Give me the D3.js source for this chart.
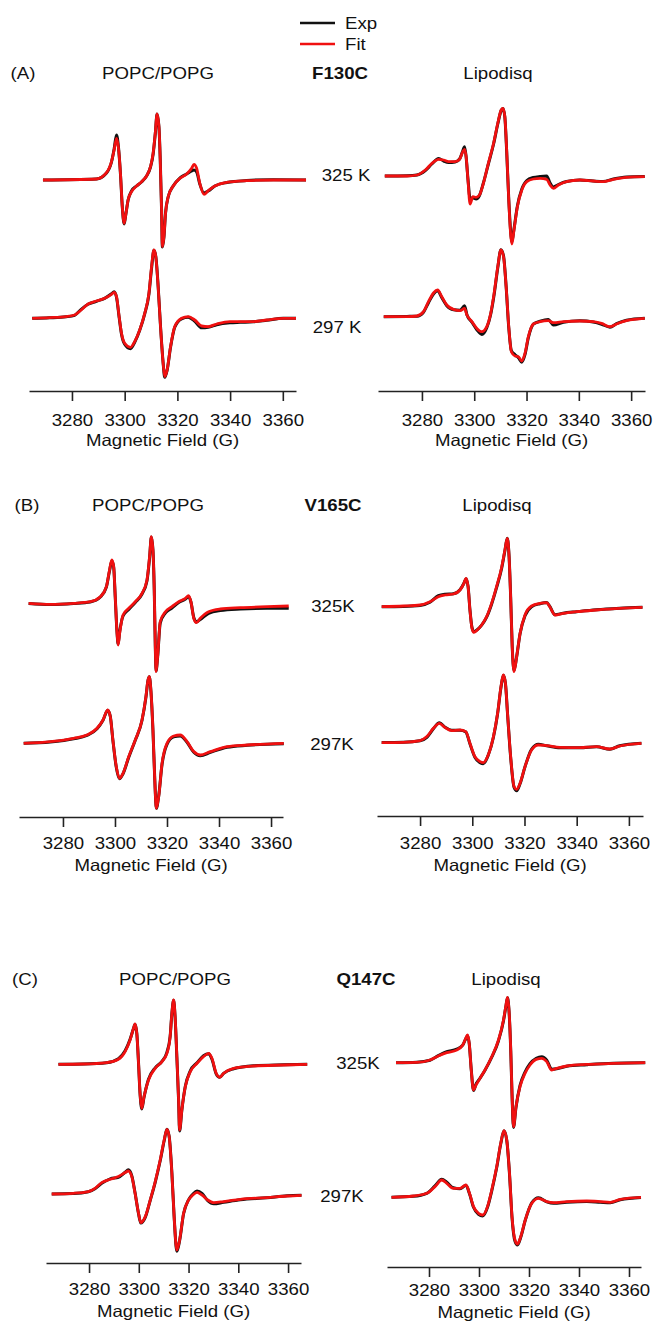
<!DOCTYPE html>
<html>
<head>
<meta charset="utf-8">
<script src="https://cdn.jsdelivr.net/npm/d3@7"></script>
<style>
  body { margin: 0; background: #fff; }
  text { font-family: "Liberation Sans", Arial, sans-serif; fill: #111; }
</style>
</head>
<body>
<div id="chart"></div>
<script>
// ---- labels ----
const fieldTicks = [3280, 3300, 3320, 3340, 3360];
const panelLabels = ["(A)", "(B)", "(C)"];
const mutants = ["F130C", "V165C", "Q147C"];
const systems = ["POPC/POPG", "Lipodisq"];
const tempLabels = [["325 K", "297 K"], ["325K", "297K"], ["325K", "297K"]];
const legendNames = ["Exp", "Fit"];

// ---- spectra: field (G), fit and experimental derivative intensity (a.u.) ----
// (A) F130C, POPC/POPG
const aPopc325Field = [3269.0,3289.3,3293.1,3295.0,3296.0,3296.9,3297.6,3298.4,3299.1,3299.8,3300.4,3301.3,3302.6,3304.5,3306.4,3308.3,3309.8,3310.8,3311.6,3312.3,3313.0,3313.5,3314.0,3314.3,3314.9,3315.5,3316.5,3318.4,3321.0,3323.5,3325.4,3326.3,3327.3,3328.5,3330.1,3331.7,3334.2,3338.7,3346.3,3356.4,3368.8];
const aPopc325Fit = [0,1,7.3,18.3,30,41.7,33,6.7,-26.7,-43.3,-35,-20,-11.7,-6,-1.7,4,13.3,26.7,46.7,66,53.3,20,-30,-66.7,-56.7,-33.3,-16.7,-6,1.7,6,11.7,15.7,11.7,-3.3,-14.3,-10.7,-6,-2.3,-0.7,0,0];
const aPopc325Exp = [0,1,7,18,31,45,34,6,-27,-44,-35,-20,-11,-6,-2,4,13,26,46,66,53,20,-30,-67,-57,-33,-17,-6,2,6,9,10,8,-4,-13,-11,-6,-2.5,-0.5,0.3,0];
const aPopc297Field = [3264.9,3271.5,3277.8,3281.0,3283.5,3286.1,3289.3,3292.4,3295.0,3296.0,3296.9,3297.9,3298.8,3300.0,3302.2,3303.8,3305.7,3307.6,3309.2,3310.2,3311.1,3311.8,3312.7,3313.6,3314.6,3315.2,3316.1,3317.4,3319.0,3321.6,3324.1,3326.6,3329.2,3331.7,3334.9,3339.9,3343.8,3348.8,3353.9,3360.2,3365.0];
const aPopc297Fit = [0,0.7,1.7,3.3,8.3,14.3,17.3,20,24,26,21.7,1.7,-15,-25,-29,-23.3,-11.7,5,25,51.7,68.3,61.7,31.7,-8.3,-45,-58.3,-51.7,-28.3,-8.3,0,1.7,-1.7,-7.7,-8.3,-5.7,-3.3,-3.3,-3.3,-1.7,0,0];
const aPopc297Exp = [0,0.5,1.5,3,9,14,17,20,24.5,26.5,21,1,-16,-26,-30.5,-24,-12,4.5,24,50,68,62,32,-8,-45,-59,-52,-29,-9,-0.5,1,-3,-9.5,-9,-6.5,-4.5,-4,-3.5,-2,0,0];
// (A) F130C, Lipodisq
const aLipo325Field = [3265.8,3274.3,3278.1,3281.3,3283.8,3286.4,3288.3,3290.2,3292.7,3294.4,3295.6,3296.3,3296.9,3297.6,3298.4,3299.5,3300.7,3302.0,3303.5,3305.4,3307.4,3309.0,3310.3,3311.0,3311.7,3312.4,3313.2,3314.0,3314.4,3315.2,3316.5,3318.2,3320.1,3322.6,3325.2,3327.7,3329.0,3330.3,3332.2,3335.3,3340.4,3345.5,3349.3,3353.2,3358.2,3365.2];
const aLipo325Fit = [0,0,1,6,12.7,16.7,16,14.3,14.3,16.7,24.3,26.7,19.3,-4,-28,-20.7,-21.3,-19,-7.3,12.7,32.7,52.7,66,67.7,59.3,26,-24,-60.7,-68,-54,-30.7,-14,-5.7,-3,-2.3,-3.3,-9,-12.3,-9,-5.7,-4,-5,-5.7,-3.3,-1.3,-0.7];
const aLipo325Exp = [0,0.3,1,5.5,12,17.5,15,13.5,14,17,25,29.3,19,-3,-22,-22,-23,-19.5,-7,12,32,52,65.5,67.5,59,25,-23,-58,-66,-53,-30,-13,-4.5,-1.5,-0.5,0,-7,-11,-8.5,-5.5,-4,-5,-5.5,-3,-1,-0.5];
const aLipo297Field = [3265.4,3274.3,3278.1,3280.6,3282.5,3284.5,3286.0,3287.6,3289.5,3292.1,3294.6,3296.3,3297.2,3299.1,3301.0,3302.9,3304.8,3306.3,3307.6,3309.0,3310.2,3311.2,3312.2,3313.2,3314.2,3315.6,3316.9,3318.2,3319.4,3320.7,3322.6,3325.2,3328.3,3330.3,3334.1,3340.4,3345.5,3348.7,3351.9,3354.4,3358.2,3365.2];
const aLipo297Fit = [0,0,0.7,5,15,24,26.7,20,11.7,7.3,6,8.3,1.7,-5,-11.7,-15,-10,3.3,23.3,50,66.7,60,30,-10,-35,-39.3,-40,-44.3,-36.7,-20,-7.3,-5,-4,-6,-5,-4.3,-5,-6.7,-10,-7.3,-4,-1.7];
const aLipo297Exp = [0,0.3,0.5,4.5,14,23,26,19,11,7,6.5,11,2,-5.5,-13,-17.7,-11,2.5,22,49,67,61,30,-11,-34,-38,-41,-45.5,-38,-21,-7.5,-4.5,-2.7,-8.3,-5.5,-4,-5.3,-7.5,-10.5,-7,-3.5,-1.5];

// (B) V165C, POPC/POPG
const bPopc325Field = [3266.8,3275.1,3284.1,3290.5,3294.4,3296.7,3297.9,3298.8,3299.5,3300.1,3300.8,3301.2,3301.8,3303.1,3305.3,3307.8,3310.4,3312.3,3313.3,3314.0,3314.6,3315.1,3315.5,3315.8,3316.4,3317.4,3319.4,3321.9,3324.5,3327.1,3328.3,3329.2,3330.3,3331.3,3332.8,3336.0,3340.5,3348.2,3358.5,3366.8];
const bPopc325Fit = [0.7,-0.3,0.7,2.3,7.3,17.3,34,44,37.3,7.3,-29.3,-41,-29.3,-11,-4.3,2.3,10.7,24,47.3,67.3,54,14,-42.7,-67.7,-52.7,-17.7,-7.7,-2.7,2.3,5.7,8.3,2.3,-14.3,-18.7,-14.3,-7.7,-5,-3.7,-2.7,-2];
const bPopc325Exp = [0.5,-0.5,0.5,2,7,17,33,43,37,7,-29,-40,-28,-12,-5.5,1.5,10,23,46,67,54,14,-42,-67,-53,-19,-9,-4,1.5,5,7.5,2,-13.5,-18,-15.5,-9.3,-6.5,-5,-4.3,-4.3];
const bPopc297Field = [3264.9,3275.1,3284.1,3289.2,3293.1,3295.4,3297.2,3298.2,3299.2,3300.5,3301.7,3303.1,3305.3,3307.8,3310.4,3311.9,3312.7,3313.2,3313.8,3314.6,3315.3,3315.9,3316.8,3318.1,3320.0,3322.6,3325.1,3327.7,3330.3,3332.8,3336.7,3343.1,3350.8,3364.9];
const bPopc297Fit = [0,1.7,5,8.3,15,23.3,33.3,26.7,3.3,-23.3,-35,-30,-13.3,3.3,23.3,46.7,63.3,66.7,53.3,13.3,-36.7,-65,-53.3,-20,0,7.3,8.3,1.7,-8.3,-11.7,-8.3,-3.3,-1.7,0];
const bPopc297Exp = [0,1.3,4.5,8,14.5,23,33,27,3,-24,-35.5,-30.5,-14,3,23,46,63,66.5,53,13,-36,-65,-53,-21,-1,6.5,7.3,1,-9,-12.5,-9,-4,-2,-0.5];
// (B) V165C, Lipodisq
const bLipo325Field = [3265.3,3273.6,3280.0,3283.8,3287.0,3289.6,3292.8,3295.3,3296.8,3297.6,3298.4,3299.1,3299.9,3300.6,3301.9,3303.6,3305.5,3307.4,3309.3,3311.3,3312.5,3313.4,3314.1,3314.7,3315.3,3316.0,3317.0,3318.3,3320.2,3322.7,3325.9,3328.5,3329.7,3331.7,3334.8,3340.0,3347.6,3356.5,3365.2];
const bLipo325Fit = [0,0.7,1.7,5,10,11.7,12.7,16.7,23.3,28.3,20,-3.3,-21.7,-25.7,-23.3,-18.3,-10,3.3,20,40,56.7,68.3,50,10,-40,-65,-50,-26.7,-8.3,0.7,3.3,4,0,-8.3,-6.7,-5,-3.3,-1.7,-0.7];
const bLipo325Exp = [0,0.3,1.3,4.5,11,12.5,13,17,23.5,28,20,-3,-21,-25,-23,-18.5,-10.5,2.5,19,39,56,68.5,50,10,-40,-64,-50,-27,-9,0,3,4.3,0.3,-8,-6.5,-5,-3,-1.5,-0.5];
const bLipo297Field = [3265.3,3273.6,3280.0,3282.6,3285.1,3287.4,3289.6,3292.1,3295.3,3297.5,3299.1,3301.0,3303.0,3304.2,3306.1,3308.1,3309.7,3311.0,3311.9,3312.7,3313.5,3314.7,3316.0,3317.0,3318.3,3320.2,3322.7,3325.3,3328.5,3333.6,3341.2,3347.6,3352.7,3356.5,3364.8];
const bLipo297Fit = [-0.3,0,1.7,5.7,14,19,14.7,11.7,12.3,10.7,-1,-14.3,-19.3,-20.3,-12.7,5.7,29,55.7,67.3,59,29,-14.3,-44.3,-47,-41,-24.3,-7.7,-2.7,-3.3,-5,-5.3,-4.3,-6.7,-3.7,-1];
const bLipo297Exp = [-0.3,0,1.5,5,13.5,19.5,15,12,12,10.5,-1.5,-15,-20.5,-21.5,-13,5,28.5,55,67,59,29,-15,-45,-48.5,-41.5,-24.5,-7,-2,-3.5,-5.5,-5.5,-4.5,-7,-3.5,-1];

// (C) Q147C, POPC/POPG
const cPopc325Field = [3267.7,3277.7,3287.1,3291.8,3294.5,3296.5,3297.9,3298.5,3299.2,3299.9,3300.5,3301.2,3302.1,3303.9,3306.6,3309.3,3311.3,3312.6,3313.3,3314.0,3314.6,3315.3,3316.0,3316.4,3317.3,3318.7,3320.7,3323.4,3326.0,3328.1,3329.4,3331.1,3332.5,3334.1,3338.1,3346.2,3358.3,3367.7];
const cPopc325Fit = [0,0.3,1.7,5,12.7,24.3,36,40.3,31,1,-29,-44,-32.3,-15.7,-4,2.7,11,27.7,51,64.3,47.7,7.7,-35.7,-65.7,-45.7,-22.3,-7.3,1,7.7,11,6,-9,-13,-9,-4,-1.7,-0.7,0];
const cPopc325Exp = [0,0.3,1.5,5.5,13.5,25,36,40,31,1,-29,-44.7,-33,-15,-3.5,3,12,28,51,64,47,7,-36,-66.7,-46,-22,-6.5,1.5,8.5,10.5,5,-9.5,-13,-9,-4.5,-1.5,-0.5,0];
const cPopc297Field = [3265.0,3273.7,3279.7,3282.4,3285.1,3288.5,3291.8,3294.5,3295.8,3297.2,3298.5,3299.9,3300.8,3302.6,3304.6,3306.6,3308.6,3310.2,3311.3,3312.2,3313.3,3314.2,3315.3,3316.4,3318.0,3320.0,3321.7,3323.4,3325.4,3327.7,3330.1,3334.1,3340.8,3351.5,3359.6,3365.4];
const cPopc297Fit = [0.3,1,2.7,6,11.7,15,17.7,21.7,23.3,17.7,1,-19,-28.3,-22.3,-5.7,12.7,34.3,54.3,65,57.7,21,-22.3,-55.7,-45.7,-19,-5.7,-0.7,2,-0.7,-5.7,-8.3,-7.3,-5,-3.3,-1.7,-1];
const cPopc297Exp = [0.3,0.7,2.5,5.5,11,15.5,17,22,24.5,18.5,1.5,-19.5,-28.7,-23,-6,12,33.5,53.5,65,58,21.5,-22,-57,-46.5,-19.5,-5.5,0,3.3,1,-6.3,-9.5,-8,-5.5,-3.5,-1.5,-1];
// (C) Q147C, Lipodisq
const cLipo325Field = [3266.8,3275.1,3280.4,3283.7,3287.1,3291.1,3293.5,3294.7,3295.4,3296.1,3296.9,3297.8,3298.8,3300.4,3302.4,3305.1,3307.8,3309.8,3310.8,3311.4,3312.0,3312.7,3313.2,3313.8,3314.8,3316.4,3318.4,3320.4,3322.9,3325.1,3327.1,3329.1,3331.1,3335.1,3343.1,3353.8,3366.5];
const cLipo325Fit = [0,0.3,2.7,6.7,10,12.7,17.7,24.3,27.7,19.3,-7.3,-27.3,-22.3,-15.7,-7.3,6,22.7,42.7,57.7,65.3,52.7,12.7,-30.7,-64,-44,-24,-10.7,-2.3,3.3,4.3,1,-7.3,-5.7,-3.3,-1.7,-0.7,0];
const cLipo325Exp = [0,0.5,2.5,7,11,13.5,17.5,24,27,19,-7,-27.7,-21.5,-15.5,-7.5,5.5,22,42,57,65,52,12,-31,-64.7,-44.5,-23,-9.5,-1,4.5,6,2.5,-6.5,-6,-3.5,-2,-0.5,0];
const cLipo297Field = [3265.0,3273.7,3279.1,3282.4,3285.1,3287.1,3289.7,3292.4,3294.8,3296.2,3297.8,3299.8,3301.5,3303.4,3305.1,3307.1,3308.7,3310.0,3311.1,3312.2,3313.2,3314.4,3315.4,3316.7,3318.5,3321.1,3323.8,3327.1,3329.8,3335.1,3343.1,3348.5,3352.5,3356.5,3364.8];
const cLipo297Fit = [0,1.3,4,10.7,17.3,14,9,9,12.3,4,-9.3,-16,-17.7,-9.3,7.3,30.7,54,66.7,57.3,24,-19.3,-42.7,-46.7,-39.3,-22.7,-6,-1,-4.3,-5.3,-4.3,-3.7,-4.3,-5,-2,0];
const cLipo297Exp = [0,1,4,11.5,18,15,9.5,8.5,12,3.5,-10,-17,-18.7,-10,6.5,30,53.5,66.5,57,23.5,-20,-44,-47.7,-40,-23,-5.5,-0.5,-4.5,-6,-5,-4.3,-5,-5.5,-2.5,-0.3];

// spectra[panel][system][temperature]
const spectra = [
  [[[aPopc325Field, aPopc325Fit, aPopc325Exp], [aPopc297Field, aPopc297Fit, aPopc297Exp]],
   [[aLipo325Field, aLipo325Fit, aLipo325Exp], [aLipo297Field, aLipo297Fit, aLipo297Exp]]],
  [[[bPopc325Field, bPopc325Fit, bPopc325Exp], [bPopc297Field, bPopc297Fit, bPopc297Exp]],
   [[bLipo325Field, bLipo325Fit, bLipo325Exp], [bLipo297Field, bLipo297Fit, bLipo297Exp]]],
  [[[cPopc325Field, cPopc325Fit, cPopc325Exp], [cPopc297Field, cPopc297Fit, cPopc297Exp]],
   [[cLipo325Field, cLipo325Fit, cLipo325Exp], [cLipo297Field, cLipo297Fit, cLipo297Exp]]]
];

// ---- layout (pixels) ----
const width = 654, height = 1322;
const FS = 16.5, SX = 1.13;   // font size, horizontal stretch of the original figure
const colors = { exp: "#111", fit: "#f01010" };

// per panel: header row y, label x positions, and the two subplots
const panels = [
  { headY: 73, headX: [23, 158, 340, 498],
    plots: [
      { range: [29, 296], domain: [3263.7, 3365.0], axisY: 391, base: [180, 318.3], tickPad: 13, titleY: 440 },
      { range: [378, 645], domain: [3263.2, 3365.3], axisY: 391, base: [176, 316.7], tickPad: 13, titleY: 440 }],
    tempPos: [[346, 175], [337, 327]] },
  { headY: 505, headX: [27, 148, 333, 497],
    plots: [
      { range: [19, 283], domain: [3263.1, 3364.6], axisY: 817, base: [604, 743.3], tickPad: 10, titleY: 865 },
      { range: [377, 643], domain: [3263.5, 3365.4], axisY: 816, base: [606.7, 742.3], tickPad: 11, titleY: 865 }],
    tempPos: [[333, 606], [332, 744]] },
  { headY: 979, headX: [25, 175, 366, 506],
    plots: [
      { range: [46, 301], domain: [3262.7, 3365.2], axisY: 1263, base: [1064.3, 1194.3], tickPad: 10, titleY: 1311 },
      { range: [387, 641], domain: [3263.2, 3364.8], axisY: 1267, base: [1062.7, 1197.3], tickPad: 7, titleY: 1312 }],
    tempPos: [[358, 1063], [342, 1196]] }
];

const svg = d3.select("#chart").append("svg")
  .attr("width", width).attr("height", height);

function label(x, y, str, bold, anchor) {
  return svg.append("text")
    .attr("transform", `translate(${x},${y}) scale(${SX},1)`)
    .attr("text-anchor", anchor || "middle")
    .attr("dominant-baseline", "central")
    .style("font-size", FS + "px")
    .style("font-weight", bold ? "bold" : "normal")
    .text(str);
}

// legend
const legendY = [23, 44];
legendNames.forEach((name, i) => {
  svg.append("line")
    .attr("x1", 300).attr("x2", 335)
    .attr("y1", legendY[i]).attr("y2", legendY[i])
    .attr("stroke", i === 0 ? colors.exp : colors.fit)
    .attr("stroke-width", 2.4);
  label(345, legendY[i], name, false, "start");
});

const line = d3.line().curve(d3.curveMonotoneX);

panels.forEach((panel, p) => {
  // header row
  label(panel.headX[0], panel.headY, panelLabels[p]);
  label(panel.headX[1], panel.headY, systems[0]);
  label(panel.headX[2], panel.headY, mutants[p], true);
  label(panel.headX[3], panel.headY, systems[1]);

  // temperature labels
  panel.tempPos.forEach((pos, t) => label(pos[0], pos[1], tempLabels[p][t]));

  panel.plots.forEach((plot, s) => {
    const x = d3.scaleLinear().domain(plot.domain).range(plot.range);

    // spectra, stacked by temperature
    spectra[p][s].forEach((spec, t) => {
      const [field, fit, exp] = spec;
      const y = d3.scaleLinear().domain([0, 100]).range([plot.base[t], plot.base[t] - 100]);
      line.x(d => x(d[0])).y(d => y(d[1]));

      svg.append("path")
        .datum(field.map((f, i) => [f, exp[i]]))
        .attr("d", line)
        .attr("fill", "none")
        .attr("stroke", colors.exp)
        .attr("stroke-width", 3)
        .attr("stroke-linejoin", "round");

      svg.append("path")
        .datum(field.map((f, i) => [f, fit[i]]))
        .attr("d", line)
        .attr("fill", "none")
        .attr("stroke", colors.fit)
        .attr("stroke-width", 2.8)
        .attr("stroke-linejoin", "round");
    });

    // field axis
    const ax = svg.append("g")
      .attr("transform", `translate(0,${plot.axisY})`)
      .call(d3.axisBottom(x).tickValues(fieldTicks).tickSize(10)
        .tickSizeOuter(0).tickPadding(plot.tickPad).tickFormat(d3.format("d")));
    ax.select(".domain").attr("stroke", "#222").attr("stroke-width", 1.6);
    ax.selectAll(".tick line").attr("stroke", "#222").attr("stroke-width", 1.6);
    ax.selectAll(".tick text")
      .attr("transform", `scale(${SX},1)`)
      .style("font-size", FS + "px")
      .style("font-family", '"Liberation Sans", Arial, sans-serif')
      .attr("fill", "#111");

    label((plot.range[0] + plot.range[1]) / 2, plot.titleY, "Magnetic Field (G)");
  });
});
</script>
</body>
</html>
